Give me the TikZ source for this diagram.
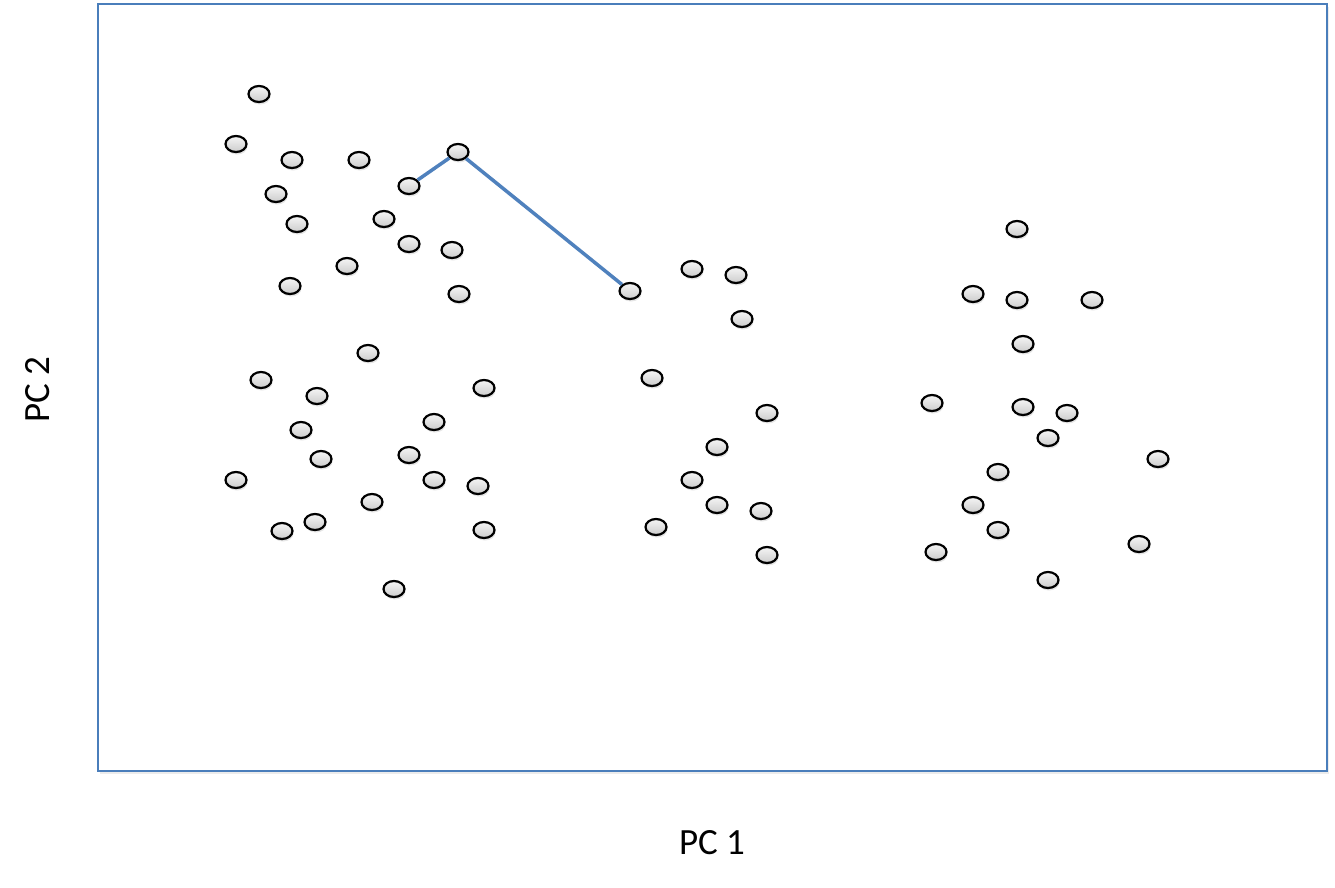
\documentclass[tikz,border=0pt]{standalone}
\usepackage{fontspec}
\setmainfont{Carlito}
\usetikzlibrary{shapes.geometric,shadows}
\definecolor{frameblue}{HTML}{4A7EBB}
\definecolor{lineblue}{HTML}{4F81BD}
\tikzset{
  pt/.style={ellipse, draw=black, line width=2.2pt, minimum width=21pt, minimum height=16pt, inner sep=0pt,
    top color=gray!8, bottom color=gray!40, drop shadow={opacity=0.2, shadow xshift=1pt, shadow yshift=-2.5pt}},
  link/.style={draw=lineblue, line width=3.5pt},
  axlabel/.style={font=\fontsize{37}{44}\selectfont, text=black}
}
\begin{document}
\begin{tikzpicture}[x=1pt,y=-1pt]
\useasboundingbox (0,0) rectangle (1335,887);
\fill[white] (0,0) rectangle (1335,887);
\node[draw=frameblue, line width=2.4pt, minimum width=1229pt, minimum height=767pt, inner sep=0pt,
  drop shadow={opacity=0.15, shadow xshift=2pt, shadow yshift=-3pt}, fill=white] (frame) at (712.5,387.5) {};
% cluster 1
\foreach \x/\y [count=\i] in {259/94,236/144,292/160,359/160,409/186,458/152,276/194,384/219,297/224,409/244,452/250,347/266,290/286,459/294,368/353,261/380,317/396,484/388,434/422,301/430,409/455,321/459,236/480,434/480,478/486,372/502,282/531,315/522,484/530,394/589}
  \node[pt] (a\i) at (\x,\y) {};
% cluster 2
\foreach \x/\y [count=\i] in {630/291,692/269,736/275,742/319,652/378,767/413,717/447,692/480,717/505,761/511,656/527,767/555}
  \node[pt] (b\i) at (\x,\y) {};
% cluster 3
\foreach \x/\y [count=\i] in {1017/229,973/294,1017/300,1092/300,1023/344,932/403,1023/407,1067/413,1048/438,1158/459,998/472,973/505,998/530,1139/544,936/552,1048/580}
  \node[pt] (c\i) at (\x,\y) {};
\draw[link] (a5) -- (a6) -- (b1);
\node[axlabel] (pc1) at (712,843) {PC 1};
\node[axlabel, rotate=90] (pc2) at (38,390) {PC 2};
\end{tikzpicture}
\end{document}
